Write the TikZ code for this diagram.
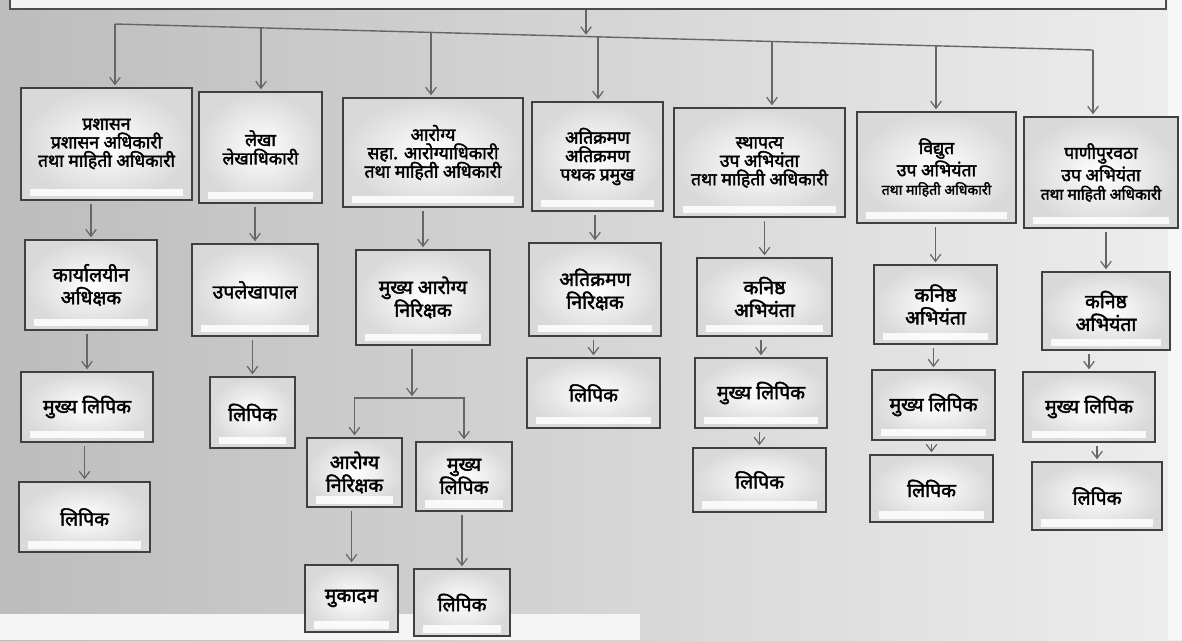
\documentclass[tikz,border=0pt]{standalone}
\usepackage{fontspec}
\newfontfamily\deva[Script=Devanagari, AutoFakeBold=2.2]{Noto Sans}
\usetikzlibrary{arrows.meta, positioning}
\newcommand{\pxu}{0.02cm}

\begin{document}
\begin{tikzpicture}[
    x=0.02cm, y=-0.02cm,
    box/.style={
        draw=black!75, line width=1.1pt, align=center, inner sep=1pt,
        inner color=white, outer color=gray!30,
        font=\deva\bfseries\fontsize{11}{13}\selectfont,
        path picture={\fill[white, opacity=0.85]
            ([xshift=5pt, yshift=2pt]path picture bounding box.south west) rectangle
            ([xshift=-5pt, yshift=6pt]path picture bounding box.south east);}
    },
    headbox/.style={box, font=\deva\bfseries\fontsize{10}{10.5}\selectfont},
    topbox/.style={draw=black!70, line width=1.1pt, fill=gray!10},
    arrow/.style={
        -{Straight Barb[length=4pt, width=6pt]}, line width=0.7pt, black!60,
        shorten <=2pt, shorten >=1pt
    },
    line/.style={line width=0.8pt, black!60}
]
\useasboundingbox (0,0) rectangle (1182,640);
\clip (0,0) rectangle (1182,640);

% background of the photographed page
\fill[left color=gray!52, right color=gray!14] (0,0) rectangle (1182,640);
\fill[gray!8] (0,614) rectangle (640,640);
\fill[gray!6] (1168,0) rectangle (1182,640);

% head box, cut off at the top
\node[topbox, minimum width=1156*\pxu, minimum height=60*\pxu] (head) at (588,-21) {};

% bus
\coordinate (b1) at (115,24);
\coordinate (b2) at (261,27.9);
\coordinate (b3) at (431,32.4);
\coordinate (b4) at (598,36.8);
\coordinate (b5) at (772,41.5);
\coordinate (b6) at (936,45.8);
\coordinate (b7) at (1093,50);
\coordinate (bc) at (586,36.5);

% first row
\node[headbox, minimum width=171*\pxu, minimum height=112*\pxu] (l1a) at (106.5,144) {प्रशासन\\प्रशासन अधिकारी\\तथा माहिती अधिकारी};
\node[headbox, minimum width=123*\pxu, minimum height=111*\pxu] (l1b) at (260.5,147.5) {लेखा\\लेखाधिकारी};
\node[headbox, minimum width=180*\pxu, minimum height=109*\pxu] (l1c) at (433,152.5) {आरोग्य\\सहा. आरोग्याधिकारी\\तथा माहिती अधिकारी};
\node[headbox, minimum width=131*\pxu, minimum height=109*\pxu] (l1d) at (597.5,156.5) {अतिक्रमण\\अतिक्रमण\\पथक प्रमुख};
\node[headbox, minimum width=171*\pxu, minimum height=109*\pxu] (l1e) at (759.5,162.5) {स्थापत्य\\उप अभियंता\\तथा माहिती अधिकारी};
\node[headbox, minimum width=159*\pxu, minimum height=111*\pxu] (l1f) at (936.5,167.5) {विद्युत\\उप अभियंता\\{\fontsize{8}{9.5}\selectfont तथा माहिती अधिकारी}};
\node[headbox, minimum width=154*\pxu, minimum height=111*\pxu] (l1g) at (1101,172.5) {पाणीपुरवठा\\उप अभियंता\\{\fontsize{8.8}{10}\selectfont तथा माहिती अधिकारी}};

% second row
\node[box, minimum width=132*\pxu, minimum height=90*\pxu] (l2a) at (91,285) {कार्यालयीन\\अधिक्षक};
\node[box, minimum width=126*\pxu, minimum height=92*\pxu] (l2b) at (255,290) {उपलेखापाल};
\node[box, minimum width=134*\pxu, minimum height=95*\pxu] (l2c) at (423,297.5) {मुख्य आरोग्य\\निरिक्षक};
\node[box, minimum width=132*\pxu, minimum height=93*\pxu] (l2d) at (595,289.5) {अतिक्रमण\\निरिक्षक};
\node[box, minimum width=135*\pxu, minimum height=78*\pxu] (l2e) at (764.5,297) {कनिष्ठ\\अभियंता};
\node[box, minimum width=123*\pxu, minimum height=79*\pxu] (l2f) at (935.5,304.5) {कनिष्ठ\\अभियंता};
\node[box, minimum width=128*\pxu, minimum height=78*\pxu] (l2g) at (1106,311) {कनिष्ठ\\अभियंता};

% third row
\node[box, minimum width=132*\pxu, minimum height=70*\pxu] (l3a) at (87,407) {मुख्य लिपिक};
\node[box, minimum width=85*\pxu, minimum height=71*\pxu] (l3b) at (252.5,412.5) {लिपिक};
\coordinate (split) at (412,398);
\node[box, minimum width=95*\pxu, minimum height=69*\pxu] (l3c) at (354.5,472.5) {आरोग्य\\निरिक्षक};
\node[box, minimum width=96*\pxu, minimum height=69*\pxu] (l3cc) at (464,476.5) {मुख्य\\लिपिक};
\node[box, minimum width=133*\pxu, minimum height=70*\pxu] (l3d) at (593.5,393) {लिपिक};
\node[box, minimum width=132*\pxu, minimum height=70*\pxu] (l3e) at (761,393) {मुख्य लिपिक};
\node[box, minimum width=123*\pxu, minimum height=70*\pxu] (l3f) at (933.5,405) {मुख्य लिपिक};
\node[box, minimum width=132*\pxu, minimum height=70*\pxu] (l3g) at (1089,407) {मुख्य लिपिक};

% fourth row
\node[box, minimum width=131*\pxu, minimum height=70*\pxu] (l4a) at (84.5,517) {लिपिक};
\node[box, minimum width=93*\pxu, minimum height=67*\pxu] (l4c) at (351.5,598.5) {मुकादम};
\node[box, minimum width=96*\pxu, minimum height=67*\pxu] (l4cc) at (462,602.5) {लिपिक};
\node[box, minimum width=133*\pxu, minimum height=64*\pxu] (l4e) at (759.5,480) {लिपिक};
\node[box, minimum width=123*\pxu, minimum height=67*\pxu] (l4f) at (931.5,488.5) {लिपिक};
\node[box, minimum width=130*\pxu, minimum height=68*\pxu] (l4g) at (1097,496) {लिपिक};

% head to bus
\draw[arrow, shorten <=0pt] (head.south -| bc) -- (bc);
\draw[line] (b1) -- (b7);
\draw[arrow, shorten <=0pt] (b1) -- (b1 |- l1a.north);
\draw[arrow, shorten <=0pt] (b2) -- (b2 |- l1b.north);
\draw[arrow, shorten <=0pt] (b3) -- (b3 |- l1c.north);
\draw[arrow, shorten <=0pt] (b4) -- (b4 |- l1d.north);
\draw[arrow, shorten <=0pt] (b5) -- (b5 |- l1e.north);
\draw[arrow, shorten <=0pt] (b6) -- (b6 |- l1f.north);
\draw[arrow, shorten <=0pt] (b7) -- (b7 |- l1g.north);

% first to second row
\draw[arrow] (l2a.north |- l1a.south) -- (l2a.north);
\draw[arrow] (l2b.north |- l1b.south) -- (l2b.north);
\draw[arrow] (l2c.north |- l1c.south) -- (l2c.north);
\draw[arrow] (l2d.north |- l1d.south) -- (l2d.north);
\draw[arrow] (l2e.north |- l1e.south) -- (l2e.north);
\draw[arrow] (l2f.north |- l1f.south) -- (l2f.north);
\draw[arrow] (l2g.north |- l1g.south) -- (l2g.north);

% second to third row
\draw[arrow] (l3a.north |- l2a.south) -- (l3a.north);
\draw[arrow] (l3b.north |- l2b.south) -- (l3b.north);
\draw[arrow] (split |- l2c.south) -- (split);
\draw[arrow, shorten <=0pt] (split) -| (l3c.north);
\draw[arrow, shorten <=0pt] (split) -| (l3cc.north);
\draw[arrow] (l3d.north |- l2d.south) -- (l3d.north);
\draw[arrow] (l3e.north |- l2e.south) -- (l3e.north);
\draw[arrow] (l3f.north |- l2f.south) -- (l3f.north);
\draw[arrow] (l3g.north |- l2g.south) -- (l3g.north);

% third to fourth row
\draw[arrow] (l4a.north |- l3a.south) -- (l4a.north);
\draw[arrow] (l4c.north |- l3c.south) -- (l4c.north);
\draw[arrow] (l4cc.north |- l3cc.south) -- (l4cc.north);
\draw[arrow] (l4e.north |- l3e.south) -- (l4e.north);
\draw[arrow] (l4f.north |- l3f.south) -- (l4f.north);
\draw[arrow] (l4g.north |- l3g.south) -- (l4g.north);

\end{tikzpicture}
\end{document}
